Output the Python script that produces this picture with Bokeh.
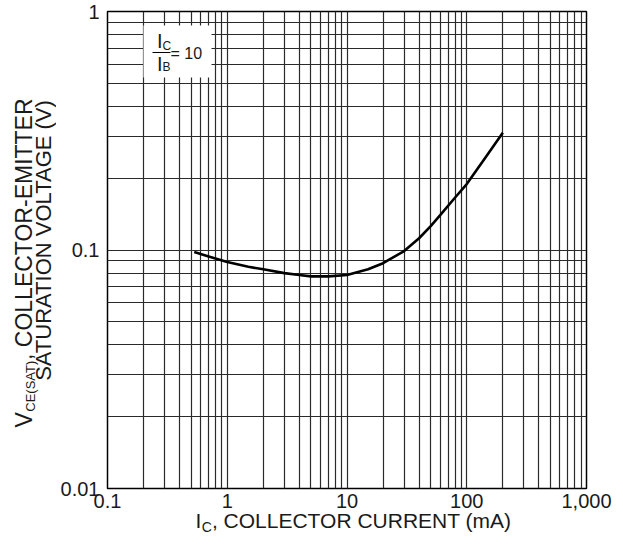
import math
from bokeh.plotting import figure
from bokeh.models import FixedTicker, CustomJSTickFormatter, Range1d
from bokeh.layouts import row, column
from bokeh.core.properties import value
from bokeh.embed import file_html
from bokeh.resources import INLINE

# ---- data ----
ic_ma = [0.53, 0.7, 1.0, 1.5, 2.0, 3.0, 4.0, 5.0, 7.0, 10, 15, 20, 30, 40, 50, 60,
         80, 100, 140, 200]
vce_sat = [0.098, 0.094, 0.089, 0.085, 0.083, 0.080, 0.0785, 0.0775, 0.0775, 0.0785,
           0.083, 0.088, 0.099, 0.112, 0.126, 0.140, 0.166, 0.189, 0.240, 0.310]

x_ticks = [0.1, 1, 10, 100, 1000]
x_tick_labels = ["0.1", "1", "10", "100", "1,000"]
y_ticks = [0.01, 0.1, 1]
y_tick_labels = ["0.01", "0.1", "1"]

FONT = "Liberation Sans"
TXT = "#1a1a1a"

# page geometry
PAGE_W = 615
LEFT_W = 56                 # column holding the y title
MAIN_W, MAIN_H = PAGE_W - LEFT_W, 516
ML, MR, MT, MB = 51, 29, 11, 28
OVER = 8                    # bottom strip overlaps the main figure's lower border
BOT_H = 38
BOT_TOP = MAIN_H - OVER

p = figure(width=MAIN_W, height=MAIN_H, x_axis_type="log", y_axis_type="log",
           x_range=(0.1, 1000), y_range=(0.01, 1), output_backend="svg",
           toolbar_location=None, title=None,
           min_border_left=ML, min_border_right=MR, min_border_top=MT,
           min_border_bottom=MB)
p.background_fill_color = "white"
p.border_fill_color = "white"
p.outline_line_color = "black"
p.outline_line_width = 1.5

x_minor = [m * 10 ** k for k in range(-1, 3) for m in range(2, 10)]
y_minor = [m * 10 ** k for k in range(-2, 0) for m in range(2, 10)]
p.xaxis.ticker = FixedTicker(ticks=x_ticks, minor_ticks=x_minor)
p.yaxis.ticker = FixedTicker(ticks=y_ticks, minor_ticks=y_minor)

fmt_code = """
for (let i = 0; i < vals.length; i++) {
  if (Math.abs(Math.log10(tick) - Math.log10(vals[i])) < 1e-6) return labs[i];
}
return '';
"""
p.xaxis.formatter = CustomJSTickFormatter(args=dict(vals=x_ticks, labs=x_tick_labels), code=fmt_code)
p.yaxis.formatter = CustomJSTickFormatter(args=dict(vals=y_ticks, labs=y_tick_labels), code=fmt_code)

for ax in (p.xaxis, p.yaxis):
    ax.axis_line_color = None
    ax.major_tick_line_color = None
    ax.minor_tick_line_color = None
    ax.major_tick_out = 0
    ax.major_tick_in = 0
    ax.minor_tick_out = 0
    ax.minor_tick_in = 0
    ax.major_label_text_font = FONT
    ax.major_label_text_font_size = "20px"
    ax.major_label_text_color = TXT
p.xaxis.major_label_standoff = 5
p.yaxis.major_label_standoff = 8

GRID = "#2a2a2a"
for g in (p.xgrid, p.ygrid):
    g.grid_line_color = GRID
    g.grid_line_width = 1.2
    g.minor_grid_line_color = GRID
    g.minor_grid_line_width = 1.2

# page-pixel -> data helpers for the main frame
FL, FR, FT, FB = LEFT_W + ML, PAGE_W - MR, MT, MAIN_H - MB
def dx(px):
    return 10 ** (-1 + 4 * (px - FL) / (FR - FL))
def dy(py):
    return 10 ** (0 - 2 * (py - FT) / (FB - FT))

# curve
p.line(ic_ma, vce_sat, line_color="black", line_width=2.6)

# ratio box  Ic / Ib = 10
p.quad(left=[dx(143)], right=[dx(211)], top=[dy(25)], bottom=[dy(77)],
       fill_color="white", line_color=None)
p.segment(x0=[dx(152)], x1=[dx(170)], y0=[dy(52)], y1=[dy(52)],
          line_color="black", line_width=1.2)

# texts: (px, py) = left/centre edge and vertical centre of the capitals
def ptxt(fig, conv_x, conv_y, text, px, py, size, angle=0.0, align="left"):
    fig.text(x=[conv_x(px)], y=[conv_y(py)], text=[text], text_font=value(FONT),
             text_font_size=f"{size}px", text_color=TXT, text_align=align,
             text_baseline="middle", angle=angle)

ptxt(p, dx, dy, "I", 156.5, 40.5, 20)
ptxt(p, dx, dy, "C", 162, 45.5, 12)
ptxt(p, dx, dy, "I", 156.5, 63, 20)
ptxt(p, dx, dy, "B", 162, 66.5, 12)
ptxt(p, dx, dy, "= 10", 170, 52.5, 16)

def bare(w, h, bt=0, bb=0):
    f = figure(width=w, height=h, x_range=Range1d(0, w), y_range=Range1d(0, h - bt - bb),
               output_backend="svg", toolbar_location=None, title=None,
               x_axis_location=None, y_axis_location=None,
               min_border_left=0, min_border_right=0, min_border_top=bt,
               min_border_bottom=bb)
    f.grid.visible = False
    f.outline_line_color = None
    f.background_fill_alpha = 0
    f.border_fill_alpha = 0
    return f

# y title (left column): same top/bottom borders as the main figure
left = bare(LEFT_W, MAIN_H, MT, MB)
ly = lambda py: FB - py
lx = lambda px: px
a = math.pi / 2
ptxt(left, lx, ly, "V", 23, 419.3, 23, a, "center")
ptxt(left, lx, ly, "CE(SAT)", 29.5, 385.7, 13, a, "center")
ptxt(left, lx, ly, ", COLLECTOR-EMITTER", 23, 228.7, 23, a, "center")
ptxt(left, lx, ly, "SATURATION VOLTAGE (V)", 43, 240, 22, a, "center")

# x title (bottom strip, pulled up over the main figure's empty lower border)
bottom = bare(PAGE_W, BOT_H)
bottom.margin = (-OVER, 0, 0, 0)
by = lambda py: BOT_TOP + BOT_H - py
ptxt(bottom, lx, by, "I", 195, 520, 21)
ptxt(bottom, lx, by, "C", 201.3, 526, 14)
ptxt(bottom, lx, by, ", COLLECTOR CURRENT (mA)", 211.4, 520, 21)

layout = column(row(left, p, spacing=0), bottom, spacing=0)
open("out.html", "w").write(file_html(layout, INLINE))
